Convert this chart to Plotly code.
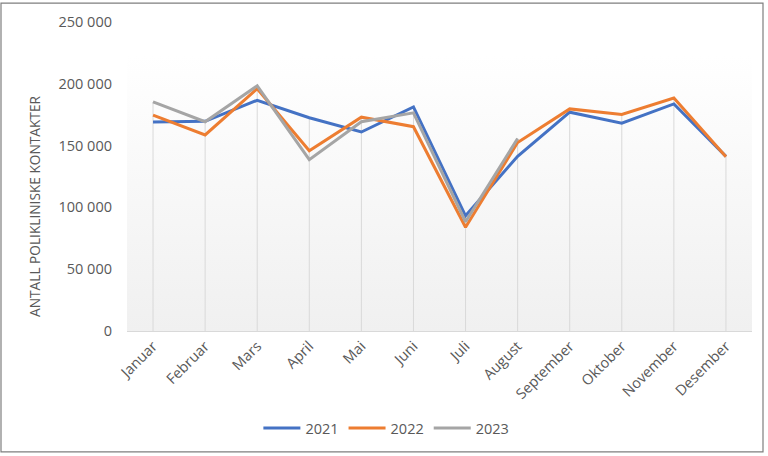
import base64
import plotly.graph_objects as go

months = ["Januar", "Februar", "Mars", "April", "Mai", "Juni", "Juli",
          "August", "September", "Oktober", "November", "Desember"]
v2021 = [169000, 169600, 186700, 172500, 161000, 181300, 93200,
         141300, 177000, 168200, 183700, 141300]
v2022 = [174700, 158600, 196000, 145800, 173000, 165300, 83900,
         152500, 179700, 175200, 188500, 141000]
v2023 = [185300, 169300, 198400, 138600, 169300, 176500, 88400,
         155700, None, None, None, None]
ytickvals = [0, 50000, 100000, 150000, 200000, 250000]
yticktext = ["0", "50 000", "100 000", "150 000", "200 000", "250 000"]

series = [("2021", v2021, "#4472C4"), ("2022", v2022, "#ED7D31"), ("2023", v2023, "#A5A5A5")]

fig = go.Figure()

# drop lines (from highest value down to axis)
for i, m in enumerate(months):
    vals = [s[1][i] for s in series if s[1][i] is not None]
    fig.add_shape(type="line", xref="x", yref="y", x0=i, x1=i, y0=0, y1=max(vals),
                  line=dict(color="#D9D9D9", width=1), layer="below")

for name, vals, col in series:
    fig.add_trace(go.Scatter(x=months, y=vals, name=name, mode="lines",
                             line=dict(color=col, width=3), connectgaps=False))

svg = ('<svg xmlns="http://www.w3.org/2000/svg" width="100" height="100" preserveAspectRatio="none">'
       '<defs><linearGradient id="g" x1="0" y1="0" x2="0" y2="1">'
       '<stop offset="0" stop-color="#FFFFFF"/><stop offset="1" stop-color="#F0F0F0"/>'
       '</linearGradient></defs><rect width="100" height="100" fill="url(#g)"/></svg>')
src = "data:image/svg+xml;base64," + base64.b64encode(svg.encode()).decode()

fig.add_layout_image(dict(source=src, xref="paper", yref="paper", x=0, y=0.89, sizex=1, sizey=0.89,
                          xanchor="left", yanchor="top", sizing="stretch", layer="below"))

# outer border
fig.add_shape(type="rect", xref="paper", yref="paper", x0=-0.2016, x1=1.0176, y0=-0.391, y1=1.0609,
              line=dict(color="#7F7F7F", width=1.2), fillcolor="rgba(0,0,0,0)")

fig.add_annotation(text="ANTALL POLIKLINISKE KONTAKTER", textangle=-90, xref="paper", yref="paper",
                   x=-0.147, y=0.402, xanchor="center", yanchor="middle", showarrow=False,
                   font=dict(family="Open Sans", size=13.7, color="#595959"))

fig.update_layout(
    width=768, height=456,
    margin=dict(l=127, r=16, t=20, b=124),
    paper_bgcolor="white", plot_bgcolor="rgba(0,0,0,0)",
    font=dict(family="Open Sans", color="#595959"),
    showlegend=True,
    legend=dict(orientation="h", x=0.415, xanchor="center", y=-0.314, yanchor="middle",
                font=dict(size=14.5, color="#595959"), itemwidth=37, traceorder="normal"),
    xaxis=dict(type="category", range=[-0.5, 11.5], showgrid=False, showline=True,
               linecolor="#D9D9D9", linewidth=1, tickangle=-45, ticks="",
               tickfont=dict(size=14.5, color="#595959"), zeroline=False, fixedrange=True),
    yaxis=dict(range=[0, 250000], tickvals=ytickvals, ticktext=yticktext, showgrid=False,
               showline=False, zeroline=False, ticks="", ticklabelstandoff=14,
               tickfont=dict(size=14.5, color="#595959")),
)

fig.write_html("out.html", config={"displayModeBar": False},
               post_script="document.body.style.margin='0';")
